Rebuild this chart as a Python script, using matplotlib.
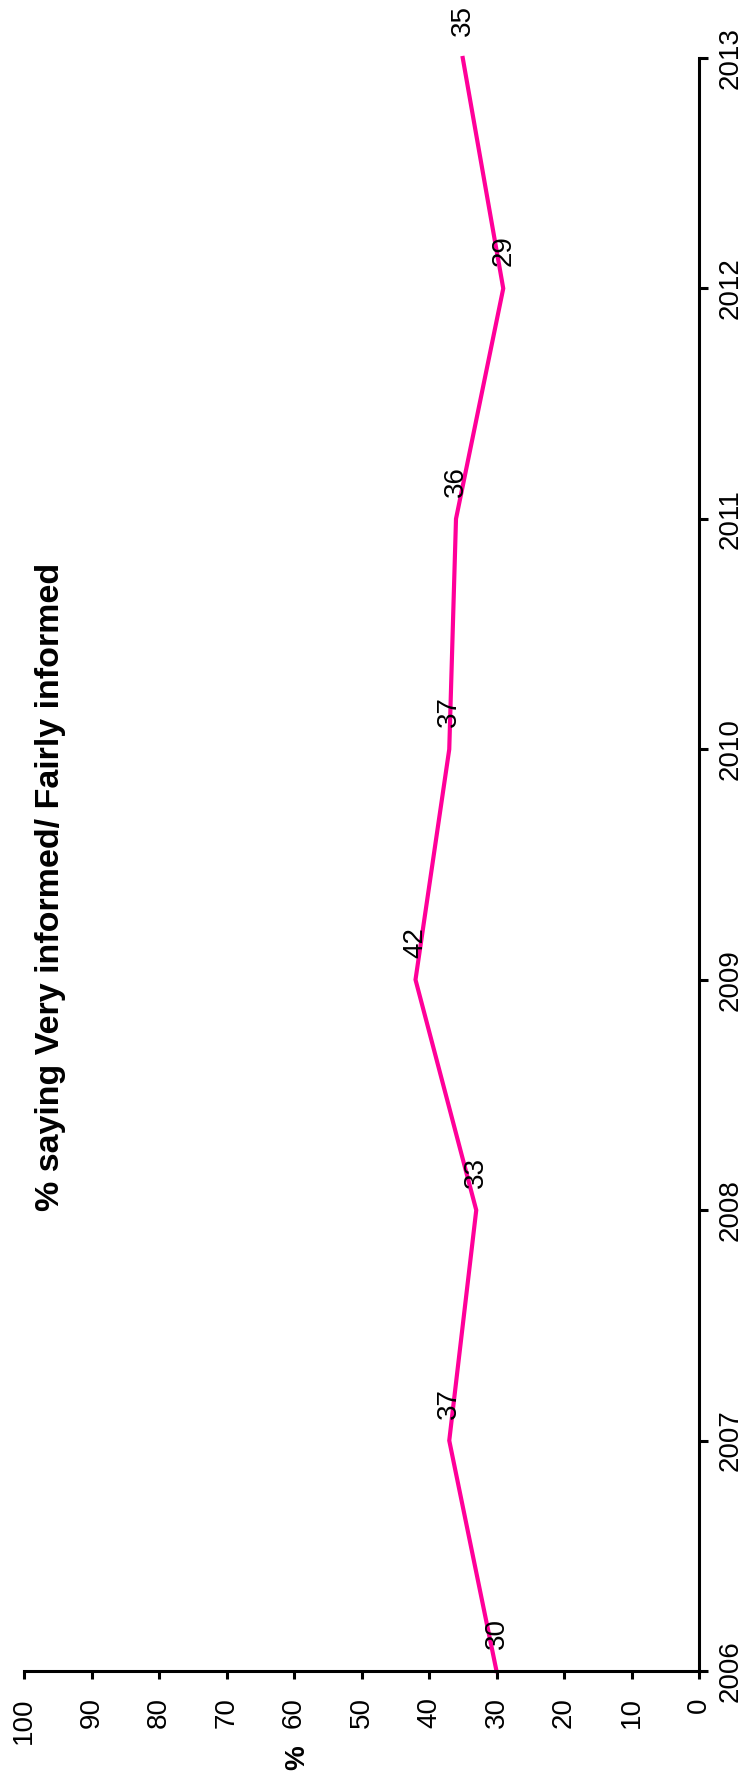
import matplotlib
matplotlib.use("Agg")
import matplotlib.pyplot as plt

plt.rcParams["font.family"] = ["Liberation Sans", "DejaVu Sans"]

# Share of respondents saying they are very / fairly informed, by survey year
years = [2006, 2007, 2008, 2009, 2010, 2011, 2012, 2013]
informed = [30, 37, 33, 42, 37, 36, 29, 35]
pct_ticks = [0, 10, 20, 30, 40, 50, 60, 70, 80, 90, 100]
title = "% saying Very informed/ Fairly informed"
line_color = "#FF0099"

fig = plt.figure(figsize=(7.47, 17.85), dpi=100)
# page is laid out sideways: percent runs right-to-left, years bottom-to-top
ax = fig.add_axes([24 / 747, 114 / 1785, 675 / 747, 1613 / 1785])

ax.plot(informed, years, color=line_color, lw=3, clip_on=False,
        solid_joinstyle="miter")
for v, yr in zip(informed, years):
    ax.annotate(str(v), (v, yr), xytext=(0, 27), textcoords="offset points",
                rotation=90, ha="center", va="center", fontsize=20,
                annotation_clip=False)

ax.set_xlim(100, 0)
ax.set_ylim(years[0], years[-1])
ax.set_xticks(pct_ticks)
ax.set_yticks(years)

for side in ["top", "left"]:
    ax.spines[side].set_visible(False)
for side in ["bottom", "right"]:
    ax.spines[side].set_linewidth(2.2)

ax.yaxis.tick_right()
ax.tick_params(axis="x", direction="out", length=5.8, width=2.2, pad=13,
               labelsize=20, labelrotation=90)
ax.tick_params(axis="y", direction="out", length=6.5, width=2.2, pad=7,
               labelsize=20, labelrotation=90)
for lab in ax.get_yticklabels():
    lab.set_va("center")

fig.text(51 / 747, 1 - 887 / 1785, title, rotation=90, ha="center",
         va="center", fontsize=24.5, fontweight="bold")
fig.text(297 / 747, 1 - 1758 / 1785, "%", rotation=90, ha="center",
         va="center", fontsize=20, fontweight="bold")

fig.savefig("out.png", dpi=100, facecolor="white")
